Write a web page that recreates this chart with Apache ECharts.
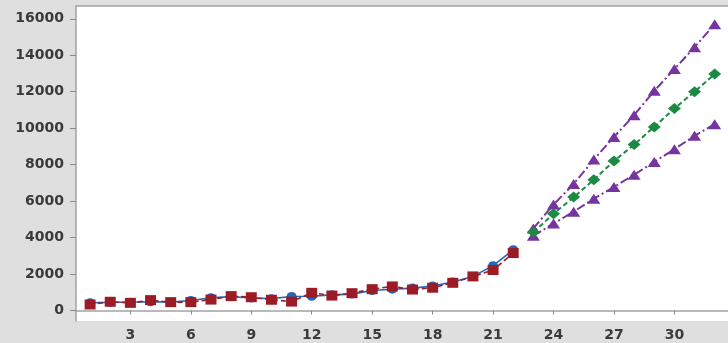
<!DOCTYPE html>
<html>
<head>
<meta charset="utf-8">
<script src="https://cdn.jsdelivr.net/npm/echarts@6/dist/echarts.min.js"></script>
<style>
  html, body { margin: 0; padding: 0; background: #dfdfdf; }
  #chart { width: 728px; height: 343px; }
</style>
</head>
<body>
<div id="chart"></div>
<script>
// Observed periods 1..22 and forecast periods 23..32
const periods = [1,2,3,4,5,6,7,8,9,10,11,12,13,14,15,16,17,18,19,20,21,22];
const forecastPeriods = [23,24,25,26,27,28,29,30,31,32];

const fittedValues = [420,450,450,480,460,550,700,760,690,650,770,780,860,900,1100,1170,1230,1340,1560,1870,2460,3330];
const actualValues = [330,480,420,570,460,460,600,790,730,590,490,970,820,950,1170,1320,1150,1250,1520,1870,2220,3150];

const forecastValues = [4300,5300,6220,7170,8200,9100,10070,11080,12000,12970];
const upperLimit = [4500,5810,6940,8280,9520,10710,12050,13240,14440,15700];
const lowerLimit = [4100,4770,5420,6130,6770,7450,8150,8850,9580,10220];

const xTickValues = [3,6,9,12,15,18,21,24,27,30];
const yTickValues = [0,2000,4000,6000,8000,10000,12000,14000,16000];

const pair = (xs, ys) => xs.map((x, i) => [x, ys[i]]);

const BLUE = '#2467b8';
const RED = '#9c1c26';
const GREEN = '#1c8a45';
const PURPLE = '#7634a0';
const FRAME = '#a3a3a3';
const labelFont = {
  fontFamily: 'DejaVu Sans', fontSize: 14, fontWeight: 'bold', color: '#3a3a3a',
  formatter: v => String(v)
};

const chart = echarts.init(document.getElementById('chart'));
chart.setOption({
  backgroundColor: '#dfdfdf',
  animation: false,
  grid: {
    left: 76, right: 0, top: 6, bottom: 22,
    show: true, backgroundColor: '#ffffff', borderWidth: 0
  },
  xAxis: [
    {
      type: 'value', min: 0.3, max: 32.66,
      splitLine: { show: false },
      axisLine: { show: true, lineStyle: { color: FRAME, width: 1.5 } },
      axisTick: { show: true, length: 4, customValues: xTickValues, lineStyle: { color: '#8a8a8a' } },
      axisLabel: Object.assign({ margin: 7, customValues: xTickValues }, labelFont)
    },
    {
      // top frame line of the plot area
      type: 'value', position: 'top', min: 0.3, max: 32.66,
      splitLine: { show: false },
      axisLine: { show: true, lineStyle: { color: FRAME, width: 1.5 } },
      axisTick: { show: false },
      axisLabel: { show: false }
    }
  ],
  yAxis: {
    type: 'value', min: -575, max: 16700,
    splitLine: { show: false },
    axisLine: { show: true, lineStyle: { color: FRAME, width: 1.5 } },
    axisTick: { show: true, length: 6, customValues: yTickValues, lineStyle: { color: '#8a8a8a' } },
    axisLabel: Object.assign({ margin: 12, customValues: yTickValues }, labelFont)
  },
  series: [
    {
      name: 'Fits', type: 'line', data: pair(periods, fittedValues),
      symbol: 'circle', symbolSize: [10, 9],
      itemStyle: { color: BLUE }, lineStyle: { color: BLUE, width: 1.6, type: 'solid' }
    },
    {
      name: 'Actual', type: 'line', data: pair(periods, actualValues),
      symbol: 'rect', symbolSize: [11, 10],
      itemStyle: { color: RED }, lineStyle: { color: RED, width: 1.6, type: [5, 3] }
    },
    {
      name: 'Upper', type: 'line', data: pair(forecastPeriods, upperLimit),
      symbol: 'triangle', symbolSize: [13, 10],
      itemStyle: { color: PURPLE }, lineStyle: { color: PURPLE, width: 2, type: [9, 3, 2, 3] }
    },
    {
      name: 'Lower', type: 'line', data: pair(forecastPeriods, lowerLimit),
      symbol: 'triangle', symbolSize: [13, 10],
      itemStyle: { color: PURPLE }, lineStyle: { color: PURPLE, width: 2, type: [9, 3, 2, 3] }
    },
    {
      name: 'Forecast', type: 'line', data: pair(forecastPeriods, forecastValues),
      symbol: 'diamond', symbolSize: [13, 11],
      itemStyle: { color: GREEN }, lineStyle: { color: GREEN, width: 2, type: [5, 3] }
    }
  ]
});
</script>
</body>
</html>
